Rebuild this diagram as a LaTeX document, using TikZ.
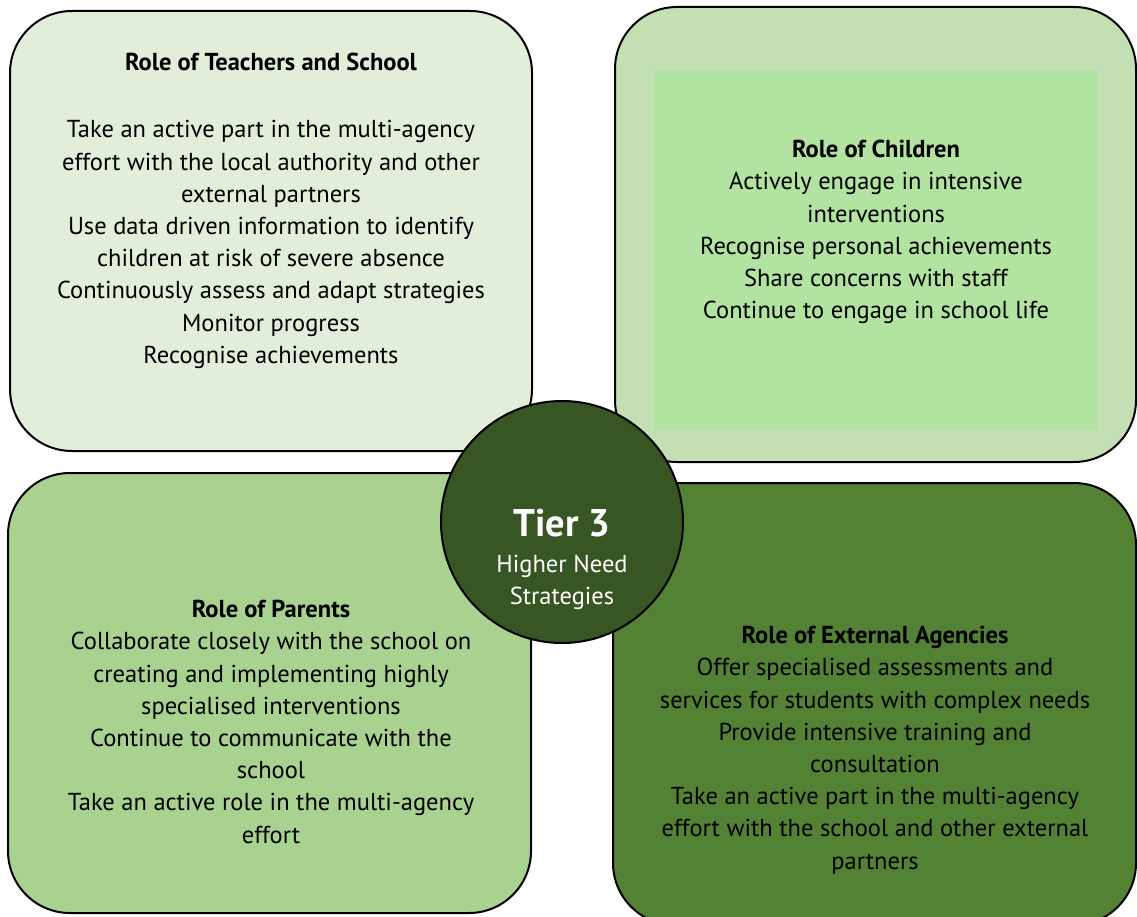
\documentclass[tikz,border=0pt]{standalone}
\usepackage{fontspec}
\setmainfont{PT Sans}
\definecolor{tlfill}{HTML}{E2EEDA}
\definecolor{trfill}{HTML}{C5DFB5}
\definecolor{trinner}{HTML}{B3E3A0}
\definecolor{blfill}{HTML}{A9D18F}
\definecolor{brfill}{HTML}{548235}
\definecolor{hubfill}{HTML}{375623}
\begin{document}
\begin{tikzpicture}[x=1pt,y=-1pt]
\tikzset{
  rolebox/.style={draw=black, line width=2pt, rounded corners=62pt},
  roletext/.style={anchor=north, inner sep=0pt, align=center, text=black,
    font=\fontsize{24.5}{32.2}\selectfont},
  hubtext/.style={inner sep=0pt, align=center, text=white}
}
\useasboundingbox (0,0) rectangle (1137,917);
\fill[white] (0,0) rectangle (1137,917);
% boxes
\draw[rolebox, fill=tlfill] (10,11) rectangle (532,451);
\draw[rolebox, fill=trfill] (615,7) rectangle (1136,462);
\fill[trinner] (654,70) rectangle (1098,430);
\draw[rolebox, fill=blfill] (8,473) rectangle (531,913);
\draw[rolebox, fill=brfill] (613,483) rectangle (1136,925);
\node[coordinate] (tl) at (271,53) {};
\node[coordinate] (tr) at (876,140) {};
\node[coordinate] (bl) at (271,600) {};
\node[coordinate] (br) at (875,626) {};
\node[roletext] (tltext) at (tl) {\textbf{Role of Teachers and School}\\[35pt]
Take an active part in the multi-agency\\
effort with the local authority and other\\
external partners\\
Use data driven information to identify\\
children at risk of severe absence\\
Continuously assess and adapt strategies\\
Monitor progress\\
Recognise achievements};
\node[roletext] (trtext) at (tr) {\textbf{Role of Children}\\
Actively engage in intensive\\
interventions\\
Recognise personal achievements\\
Share concerns with staff\\
Continue to engage in school life};
\node[roletext] (bltext) at (bl) {\textbf{Role of Parents}\\
Collaborate closely with the school on\\
creating and implementing highly\\
specialised interventions\\
Continue to communicate with the\\
school\\
Take an active role in the multi-agency\\
effort};
\node[roletext] (brtext) at (br) {\textbf{Role of External Agencies}\\
Offer specialised assessments and\\
services for students with complex needs\\
Provide intensive training and\\
consultation\\
Take an active part in the multi-agency\\
effort with the school and other external\\
partners};
% hub
\node[circle, draw=black, line width=2pt, fill=hubfill, minimum size=242pt, inner sep=0pt] (hub) at (562,522) {};
\node[hubtext, font=\bfseries\fontsize{38.5}{44}\selectfont] (tier) at (562,523) {Tier 3};
\node[hubtext, font=\fontsize{24.5}{32.2}\selectfont, anchor=north] (need) at (562,555) {Higher Need\\Strategies};
\end{tikzpicture}
\end{document}
